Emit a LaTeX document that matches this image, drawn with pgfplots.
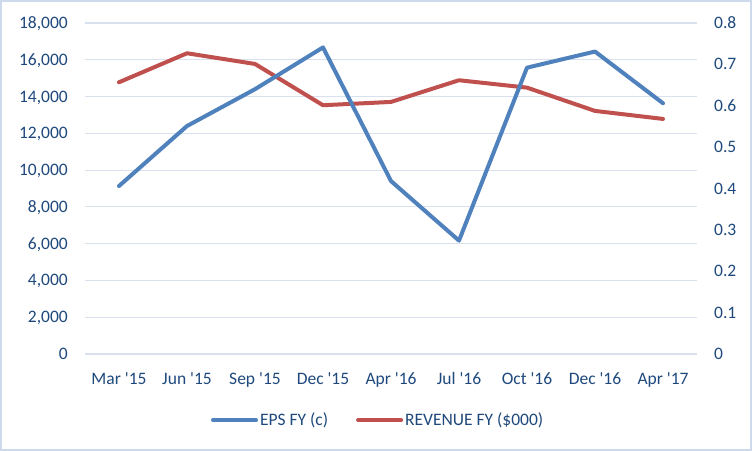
\documentclass[border=0pt]{standalone}
\usepackage{fontspec}
\setmainfont{Carlito}[Ligatures=TeXOff]
\usepackage{pgfplots}
\pgfplotsset{compat=1.18}
\definecolor{txt}{HTML}{1F497D}
\definecolor{gridc}{HTML}{D9E1EF}
\definecolor{epsc}{HTML}{4F81BD}
\definecolor{revc}{HTML}{C0504D}
\definecolor{framec}{HTML}{CCDAEC}
\begin{document}
\fontsize{17.5bp}{21bp}\selectfont
\begin{tikzpicture}
\path[use as bounding box] (0,0) rectangle (752bp,451bp);
\fill[white] (0,0) rectangle (752bp,451bp);
\draw[framec, line width=2bp] (1bp,1bp) rectangle (751bp,450bp);
\pgfplotsset{
  base/.style={
    at={(85bp,97bp)}, anchor=south west, scale only axis,
    width=612bp, height=331bp,
    xmin=-0.5, xmax=8.5,
    axis line style={draw=none}, major tick length=0pt,
    /pgf/number format/assume math mode=true,
    tick label style={text=txt},
  }
}
\begin{axis}[base,
  ymin=0, ymax=18000, ytick={0,2000,...,18000},
  ymajorgrids, grid style={gridc, line width=1.2bp},
  yticklabel style={anchor=east, inner sep=0pt, text height=0.63em, text depth=0pt, xshift=-17bp,
    /pgf/number format/.cd, fixed, 1000 sep={,}},
  scaled y ticks=false,
  xtick={0,...,8},
  xticklabels={Mar '15,Jun '15,Sep '15,Dec '15,Apr '16,Jul '16,Oct '16,Dec '16,Apr '17},
  xticklabel style={anchor=base, inner sep=0pt, yshift=-31bp},
]
\addplot[revc, line width=4bp, line join=round, line cap=round] coordinates {
(0,14778) (1,16354) (2,15773) (3,13528) (4,13708) (5,14887) (6,14485) (7,13219) (8,12784)};
\end{axis}
\begin{axis}[base,
  ymin=0, ymax=0.8, ytick={0,0.1,...,0.8},
  yticklabel pos=right,
  yticklabel style={anchor=west, inner sep=0pt, text height=0.63em, text depth=0pt, xshift=17bp,
    /pgf/number format/.cd, fixed, precision=1},
  xtick=\empty,
  legend style={at={(0.479,-0.2)}, anchor=center, draw=none, fill=none,
    legend columns=2, text=txt,
    nodes={inner sep=2bp},
    /tikz/every even column/.append style={column sep=26bp}},
  legend image code/.code={\draw[#1, line cap=round] (0bp,0bp) -- (43bp,0bp);},
]
\addplot[epsc, line width=4bp, line join=round, line cap=round] coordinates {
(0,0.406) (1,0.551) (2,0.640) (3,0.741) (4,0.418) (5,0.274) (6,0.692) (7,0.731) (8,0.606)};
\addlegendentry{EPS FY (c)}
\addlegendimage{revc, line width=4bp}
\addlegendentry{REVENUE FY (\$000)}
\end{axis}
\end{tikzpicture}
\end{document}
